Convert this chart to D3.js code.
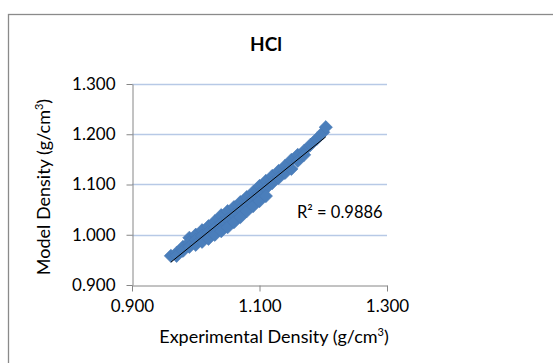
<!DOCTYPE html>
<html>
<head>
<meta charset="utf-8">
<script src="https://cdn.jsdelivr.net/npm/d3@7"></script>
<style>
  html, body { margin: 0; padding: 0; background: #fff; }
  svg { display: block; }
  text { font-family: Lato, "Open Sans", sans-serif; fill: #000; }
</style>
</head>
<body>
<svg id="chart" width="553" height="363"></svg>
<script>
// Experimental vs model density, HCl solutions (g/cm3)
const expDensity = [
  0.961,
  0.970, 0.970,
  0.980, 0.980,
  0.990, 0.990, 0.990,
  1.000, 1.000, 1.000,
  1.010, 1.010, 1.010,
  1.020, 1.020, 1.020,
  1.030, 1.030, 1.030,
  1.040, 1.040, 1.040,
  1.050, 1.050, 1.050,
  1.060, 1.060, 1.060,
  1.070, 1.070, 1.070,
  1.080, 1.080, 1.080,
  1.090, 1.090, 1.090,
  1.100, 1.100, 1.100,
  1.110, 1.110, 1.110,
  1.120, 1.120,
  1.130, 1.130,
  1.140, 1.140,
  1.150, 1.150,
  1.160, 1.160,
  1.170, 1.170,
  1.180,
  1.190,
  1.200,
  1.204
];
const modelDensity = [
  0.958,
  0.964, 0.958,
  0.976, 0.968,
  0.994, 0.985, 0.976,
  1.000, 0.990, 0.980,
  1.009, 0.998, 0.986,
  1.017, 1.005, 0.992,
  1.027, 1.013, 1.000,
  1.039, 1.023, 1.007,
  1.047, 1.031, 1.015,
  1.055, 1.040, 1.025,
  1.065, 1.050, 1.035,
  1.075, 1.061, 1.047,
  1.085, 1.071, 1.057,
  1.097, 1.082, 1.067,
  1.107, 1.092, 1.077,
  1.117, 1.103,
  1.127, 1.113,
  1.137, 1.123,
  1.149, 1.131,
  1.159, 1.147,
  1.167, 1.159,
  1.179,
  1.191,
  1.204,
  1.214
];
const xTicks = [0.9, 1.1, 1.3];
const yTicks = [0.9, 1.0, 1.1, 1.2, 1.3];
const rSquaredLabel = "R² = 0.9886";
const titleText = "HCl";

const svg = d3.select("#chart");
const plot = { left: 132, right: 387, top: 84, bottom: 285 };

const x = d3.scaleLinear().domain([0.9, 1.3]).range([plot.left, plot.right]);
const y = d3.scaleLinear().domain([0.9, 1.3]).range([plot.bottom, plot.top]);

// chart border
svg.append("rect")
  .attr("x", 8.5).attr("y", 14.5)
  .attr("width", 600).attr("height", 400)
  .attr("fill", "#fff")
  .attr("stroke", "#8a8a8a").attr("stroke-width", 1.3);

// horizontal gridlines
svg.append("g").selectAll("line")
  .data(yTicks.filter(d => d > 0.9))
  .join("line")
  .attr("x1", plot.left).attr("x2", plot.right)
  .attr("y1", d => Math.round(y(d)) + 0.5).attr("y2", d => Math.round(y(d)) + 0.5)
  .attr("stroke", "#b7c9e6").attr("stroke-width", 1.3);

// axes
const fmt = d3.format(".3f");
const yAxis = svg.append("g")
  .attr("transform", `translate(${plot.left + 0.5},0)`)
  .call(d3.axisLeft(y).tickValues(yTicks).tickFormat(fmt).tickSizeInner(6).tickSizeOuter(0).tickPadding(11));
const xAxis = svg.append("g")
  .attr("transform", `translate(0,${plot.bottom + 0.5})`)
  .call(d3.axisBottom(x).tickValues(xTicks).tickFormat(fmt).tickSizeInner(6).tickSizeOuter(0).tickPadding(8));
[yAxis, xAxis].forEach(g => {
  g.select(".domain").attr("stroke", "#868686");
  g.selectAll(".tick line").attr("stroke", "#868686");
  g.selectAll(".tick text").attr("font-size", 17).attr("font-family", "Lato, sans-serif").attr("fill", "#000");
});

// data points (diamonds)
const points = expDensity.map((e, i) => ({ e, m: modelDensity[i] }));
svg.append("g").selectAll("path")
  .data(points)
  .join("path")
  .attr("d", d3.symbol(d3.symbolSquare, 88))
  .attr("transform", d => `translate(${x(d.e)},${y(d.m)}) rotate(45)`)
  .attr("fill", "#4a7ebb")
  .attr("stroke", "#4778b5").attr("stroke-width", 0.6);

// linear trendline (least squares)
const mx = d3.mean(expDensity), my = d3.mean(modelDensity);
const slope = d3.sum(points, p => (p.e - mx) * (p.m - my)) / d3.sum(points, p => (p.e - mx) ** 2);
const intercept = my - slope * mx;
const [xmin, xmax] = d3.extent(expDensity);
svg.append("line")
  .attr("x1", x(xmin)).attr("y1", y(intercept + slope * xmin))
  .attr("x2", x(xmax)).attr("y2", y(intercept + slope * xmax))
  .attr("stroke", "#000").attr("stroke-width", 1);

// R² label
svg.append("text")
  .attr("x", 297).attr("y", 218)
  .attr("font-size", 16.5)
  .text(rSquaredLabel);

// title
svg.append("text")
  .attr("x", 266).attr("y", 51)
  .attr("text-anchor", "middle")
  .attr("font-size", 19).attr("font-weight", "bold")
  .text(titleText);

// axis titles
const xTitle = svg.append("text")
  .attr("x", 274).attr("y", 343)
  .attr("text-anchor", "middle")
  .attr("font-size", 18);
xTitle.append("tspan").text("Experimental Density (g/cm");
xTitle.append("tspan").attr("font-size", 11).attr("dy", -7).text("3");
xTitle.append("tspan").attr("dy", 7).text(")");

const yTitle = svg.append("text")
  .attr("transform", "translate(50,187) rotate(-90)")
  .attr("text-anchor", "middle")
  .attr("font-size", 18);
yTitle.append("tspan").text("Model Density (g/cm");
yTitle.append("tspan").attr("font-size", 11).attr("dy", -7).text("3");
yTitle.append("tspan").attr("dy", 7).text(")");
</script>
</body>
</html>
